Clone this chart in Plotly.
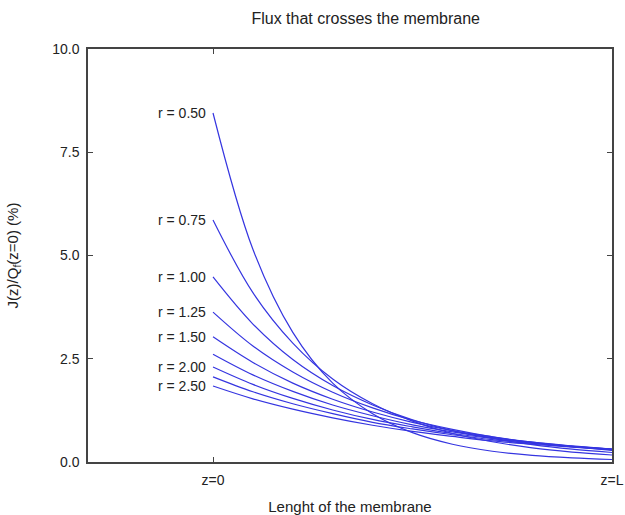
import plotly.graph_objects as go

# Position along the membrane (0 = z=0, 1 = z=L)
z = [0.0, 0.1, 0.2, 0.3, 0.4, 0.5, 0.6, 0.7, 0.8, 0.9, 1.0]

r_values = [0.50, 0.75, 1.00, 1.25, 1.50, 1.75, 2.00, 2.25, 2.50]
r_labels = ["r = 0.50", "r = 0.75", "r = 1.00", "r = 1.25", "r = 1.50", None, "r = 2.00", None, "r = 2.50"]

flux_r050 = [8.45, 5.15, 3.14, 1.91, 1.17, 0.71, 0.43, 0.26, 0.16, 0.10, 0.06]
flux_r075 = [5.86, 4.10, 2.88, 2.01, 1.41, 0.99, 0.69, 0.49, 0.34, 0.24, 0.17]
flux_r100 = [4.48, 3.34, 2.48, 1.85, 1.38, 1.02, 0.76, 0.57, 0.42, 0.31, 0.23]
flux_r125 = [3.63, 2.81, 2.18, 1.69, 1.31, 1.01, 0.79, 0.61, 0.47, 0.37, 0.28]
flux_r150 = [3.03, 2.41, 1.91, 1.52, 1.21, 0.96, 0.76, 0.61, 0.48, 0.38, 0.30]
flux_r175 = [2.61, 2.11, 1.71, 1.38, 1.12, 0.90, 0.73, 0.59, 0.48, 0.39, 0.31]
flux_r200 = [2.30, 1.88, 1.54, 1.26, 1.03, 0.85, 0.69, 0.57, 0.46, 0.38, 0.31]
flux_r225 = [2.06, 1.70, 1.41, 1.17, 0.96, 0.80, 0.66, 0.54, 0.45, 0.37, 0.31]
flux_r250 = [1.84, 1.53, 1.28, 1.07, 0.89, 0.74, 0.62, 0.51, 0.43, 0.36, 0.30]

series = [flux_r050, flux_r075, flux_r100, flux_r125, flux_r150,
          flux_r175, flux_r200, flux_r225, flux_r250]

y_ticks = [0.0, 2.5, 5.0, 7.5, 10.0]
x_tickvals = [0, 1]
x_ticktext = ["z=0", "z=L"]

line_color = "#3535e0"
axis_color = "#444444"
font = "Liberation Sans, Arial, sans-serif"

fig = go.Figure()
for r, vals in zip(r_values, series):
    fig.add_trace(go.Scatter(
        x=z, y=vals, mode="lines", name=f"r = {r:.2f}",
        line=dict(color=line_color, width=1.2, shape="spline", smoothing=1.0),
        showlegend=False, hoverinfo="skip",
    ))

for lab, vals in zip(r_labels, series):
    if lab is None:
        continue
    fig.add_annotation(
        x=-0.012, y=vals[0], xref="x", yref="y", text=lab, showarrow=False,
        xanchor="right", yanchor="middle",
        font=dict(family=font, size=14, color="#222222"),
    )

axis_common = dict(
    showline=True, linecolor=axis_color, linewidth=1.5, mirror="allticks",
    ticks="inside", ticklen=5, tickwidth=1, tickcolor=axis_color,
    showgrid=False, zeroline=False, automargin=False, ticklabelstandoff=4,
    tickfont=dict(family=font, size=14, color="#222222"),
)

fig.update_layout(
    width=625, height=515,
    margin=dict(l=88, r=13, t=49, b=53),
    paper_bgcolor="white", plot_bgcolor="white",
    title=dict(text="Flux that crosses the membrane", x=0.53, xanchor="center",
               xref="paper", y=0.965, yanchor="middle",
               font=dict(family=font, size=16, color="#222222")),
    xaxis=dict(range=[-0.3133, 1.0], tickvals=x_tickvals, ticktext=x_ticktext,
               title=dict(text="Lenght of the membrane", standoff=18,
                          font=dict(family=font, size=15, color="#222222")),
               **axis_common),
    yaxis=dict(range=[0, 10], tickvals=y_ticks, tickformat=".1f",
               title=dict(text="J(z)/Q<sub>f</sub>(z=0) (%)", standoff=30,
                          font=dict(family=font, size=15, color="#222222")),
               **axis_common),
)

fig.write_html("out.html", config={"displayModeBar": False},
               post_script="document.body.style.margin='0';document.body.style.overflow='hidden';")
